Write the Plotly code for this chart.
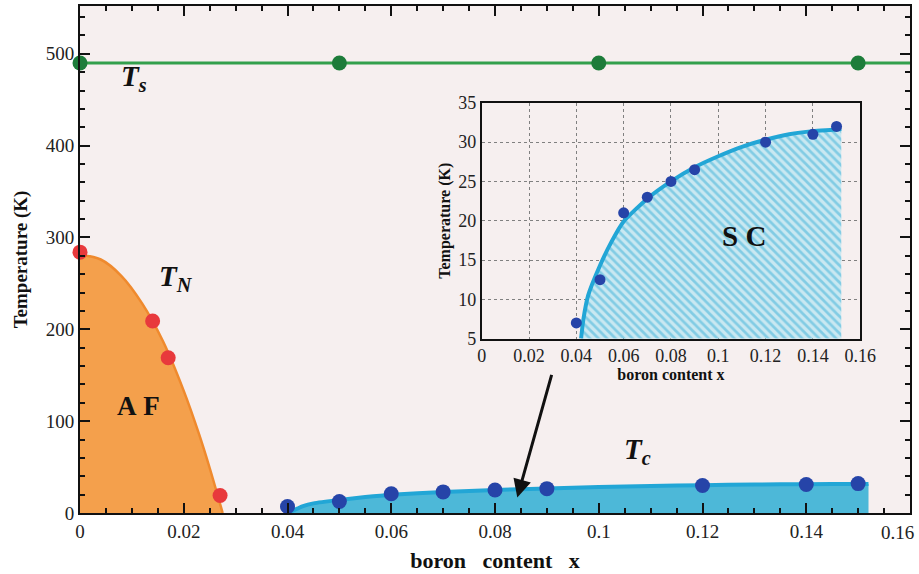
import plotly.graph_objects as go

# ---- data ----
ts_x = [0.0, 0.05, 0.10, 0.15]
ts_T = [490, 490, 490, 490]
ts_line_x = [0.0, 0.16]
ts_line_T = [490, 490]

tn_x = [0.0, 0.014, 0.017, 0.027]
tn_T = [284, 209, 169, 19]
tn_curve_x = [0.0, 0.004, 0.008, 0.012, 0.016, 0.020, 0.023, 0.025, 0.027, 0.0275]
tn_curve_T = [281, 276, 258, 228, 187, 133, 85, 49, 10, 0]

tc_x = [0.04, 0.05, 0.06, 0.07, 0.08, 0.09, 0.12, 0.14, 0.15]
tc_T = [7, 12.5, 21, 23, 25, 26.5, 30, 31, 32]
tc_curve_x = [0.040, 0.042, 0.043, 0.045, 0.05, 0.055, 0.06, 0.07, 0.08, 0.09, 0.10, 0.11, 0.12, 0.13, 0.14, 0.15, 0.152]
tc_curve_T = [0, 5, 7.5, 10.5, 14.3, 17.4, 19.9, 22.8, 25.0, 26.8, 28.2, 29.4, 30.3, 31.0, 31.4, 31.6, 31.7]

x_ticks = [0, 0.02, 0.04, 0.06, 0.08, 0.1, 0.12, 0.14, 0.16]
x_tick_text = ["0", "0.02", "0.04", "0.06", "0.08", "0.1", "0.12", "0.14", "0.16"]
y_ticks = [0, 100, 200, 300, 400, 500]
inset_y_ticks = [5, 10, 15, 20, 25, 30, 35]

SERIF = "Liberation Serif"
BG = "#F6EFEF"
NB = "\u00a0"

fig = go.Figure()

# AF region
fig.add_trace(go.Scatter(x=tn_curve_x, y=tn_curve_T, mode="lines", fill="tozeroy",
                         fillcolor="#F4A04C", line=dict(color="#EF8A2E", width=2.5, shape="spline", smoothing=1.0),
                         hoverinfo="skip", xaxis="x", yaxis="y"))
# SC region main
fig.add_trace(go.Scatter(x=tc_curve_x, y=tc_curve_T, mode="lines", fill="tozeroy",
                         fillcolor="#4DB8D8", line=dict(color="#22A6D6", width=4, shape="spline", smoothing=0.6),
                         hoverinfo="skip", xaxis="x", yaxis="y"))
# Ts line
fig.add_trace(go.Scatter(x=ts_line_x, y=ts_line_T, mode="lines",
                         line=dict(color="#33A04C", width=3), hoverinfo="skip"))
fig.add_trace(go.Scatter(x=ts_x, y=ts_T, mode="markers",
                         marker=dict(color="#1D7C3A", size=15), hoverinfo="skip", cliponaxis=False))
# TN points
fig.add_trace(go.Scatter(x=tn_x, y=tn_T, mode="markers",
                         marker=dict(color="#E8393C", size=15), hoverinfo="skip", cliponaxis=False))
# Tc points
fig.add_trace(go.Scatter(x=tc_x, y=tc_T, mode="markers",
                         marker=dict(color="#2644A8", size=15), hoverinfo="skip"))

# ---- inset ----
fig.add_trace(go.Scatter(x=tc_curve_x[1:], y=tc_curve_T[1:], mode="lines", fill="tozeroy",
                         fillcolor="#BFE4EF",
                         fillpattern=dict(shape="\\", fgcolor="#3BB0D8", bgcolor="#C9E8F1",
                                          size=6, solidity=0.45),
                         line=dict(color="#22A6D6", width=4, shape="spline", smoothing=0.6),
                         hoverinfo="skip", xaxis="x2", yaxis="y2"))
fig.add_trace(go.Scatter(x=tc_x, y=tc_T, mode="markers",
                         marker=dict(color="#2644A8", size=11), hoverinfo="skip",
                         xaxis="x2", yaxis="y2"))

tickfont = dict(family=SERIF, size=19, color="#222")
lab_font = dict(family=SERIF, size=29, color="#111")

# the last main tick label sits left of its tick (drawn as an annotation so it is not clipped)
main_tick_text = x_tick_text[:-1] + [""]

fig.update_layout(
    width=919, height=574,
    margin=dict(l=80, r=9, t=6, b=61, autoexpand=False),
    paper_bgcolor="white", plot_bgcolor=BG,
    showlegend=False,
    xaxis=dict(range=[0, 0.16], domain=[0, 1], tickmode="array", tickvals=x_ticks, ticktext=main_tick_text,
               ticks="inside", ticklen=10, tickwidth=2, tickcolor="#111",
               minor=dict(tickmode="linear", dtick=0.005, tick0=0, ticks="inside", ticklen=5, tickwidth=1.5,
                          tickcolor="#111", showgrid=False),
               showline=True, linecolor="#111", linewidth=2, mirror="ticks",
               showgrid=False, zeroline=False, tickfont=tickfont, automargin=False,
               title=dict(text="<b>boron" + NB * 3 + "content" + NB * 3 + "x</b>",
                          font=dict(family=SERIF, size=22, color="#111"), standoff=12)),
    yaxis=dict(range=[0, 552], domain=[0, 1], tickmode="linear", tick0=0, dtick=100,
               ticks="inside", ticklen=10, tickwidth=2, tickcolor="#111",
               minor=dict(tickmode="linear", dtick=20, tick0=0, ticks="inside", ticklen=5, tickwidth=1.5,
                          tickcolor="#111", showgrid=False),
               showline=True, linecolor="#111", linewidth=2, mirror="ticks",
               showgrid=False, zeroline=False, tickfont=tickfont, automargin=False,
               ticklabeloverflow="allow",
               title=dict(text="<b>Temperature (K)</b>", font=dict(family=SERIF, size=19, color="#111"),
                          standoff=13)),
    xaxis2=dict(range=[0, 0.16], domain=[0.484, 0.940], anchor="y2",
                tickvals=x_ticks, ticktext=x_tick_text, automargin=False,
                showline=True, linecolor="#111", linewidth=1.5, mirror=True,
                showgrid=True, gridcolor="#808080", griddash="dot", gridwidth=1,
                zeroline=False, ticks="", tickfont=dict(family=SERIF, size=18, color="#222"),
                title=dict(text="<b>boron content x</b>", font=dict(family=SERIF, size=16, color="#111"),
                           standoff=4)),
    yaxis2=dict(range=[5, 35], domain=[0.344, 0.809], anchor="x2", tickvals=inset_y_ticks,
                showline=True, linecolor="#111", linewidth=1.5, mirror=True, automargin=False,
                showgrid=True, gridcolor="#808080", griddash="dot", gridwidth=1,
                zeroline=False, ticks="", tickfont=dict(family=SERIF, size=18, color="#222"),
                title=dict(text="<b>Temperature (K)</b>", font=dict(family=SERIF, size=16, color="#111"),
                           standoff=4)),
)

fig.add_annotation(x=x_ticks[-1], y=0, xref="x", yref="y", showarrow=False,
                   text=x_tick_text[-1], font=tickfont, xanchor="right", yanchor="top",
                   xshift=6, yshift=-7)
fig.add_annotation(x=0.0105, y=474, xref="x", yref="y", showarrow=False,
                   text="<b><i>T</i></b><sub><b><i>s</i></b></sub>", font=lab_font)
fig.add_annotation(x=0.0185, y=256, xref="x", yref="y", showarrow=False,
                   text="<b><i>T</i></b><sub><b><i>N</i></b></sub>", font=lab_font)
fig.add_annotation(x=0.1075, y=67, xref="x", yref="y", showarrow=False,
                   text="<b><i>T</i></b><sub><b><i>c</i></b></sub>", font=lab_font)
fig.add_annotation(x=0.0112, y=117, xref="x", yref="y", showarrow=False,
                   text="<b>A" + NB + "F</b>", font=dict(family=SERIF, size=27, color="#111"))
fig.add_annotation(x=0.111, y=18, xref="x2", yref="y2", showarrow=False,
                   text="<b>S" + NB + "C</b>", font=dict(family=SERIF, size=29, color="#111"))
fig.add_annotation(x=0.0843, y=17, ax=0.091, ay=152, xref="x", yref="y",
                   axref="x", ayref="y", showarrow=True, arrowhead=2, arrowsize=1.2,
                   arrowwidth=3, arrowcolor="#111", text="")

fig.write_html("out.html")
